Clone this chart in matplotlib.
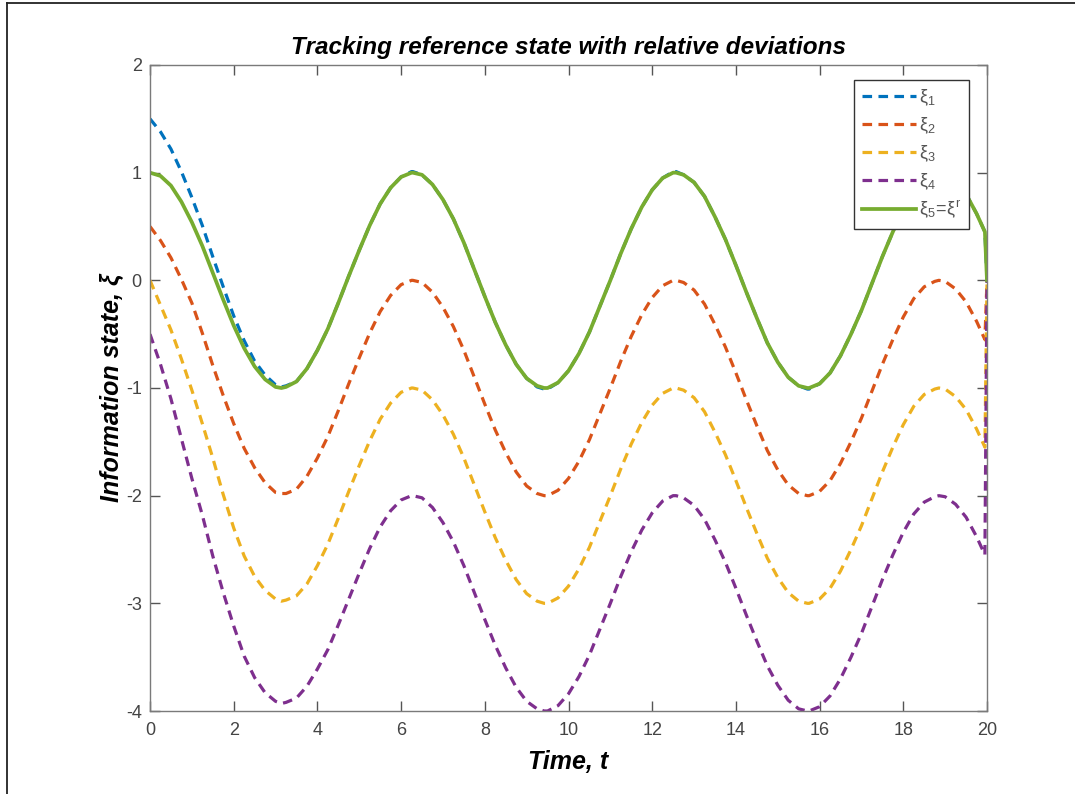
import numpy as np
import matplotlib
matplotlib.use("Agg")
import matplotlib.pyplot as plt
from matplotlib.lines import Line2D

plt.rcParams['font.family'] = ['Liberation Sans', 'DejaVu Sans']
plt.rcParams['mathtext.fontset'] = 'custom'
plt.rcParams['mathtext.rm'] = 'Liberation Sans'
plt.rcParams['mathtext.it'] = 'Liberation Sans'
plt.rcParams['axes.unicode_minus'] = False

# sampling instants of the simulation (extra samples at the extrema)
time = [0.0, 0.25, 0.5, 0.75, 1.0, 1.25, 1.5, 1.75, 2.0, 2.25, 2.5, 2.75, 3.0, 3.14, 3.25, 3.5, 3.75,
        4.0, 4.25, 4.5, 4.75, 5.0, 5.25, 5.5, 5.75, 6.0, 6.25, 6.28, 6.5, 6.75,
        7.0, 7.25, 7.5, 7.75, 8.0, 8.25, 8.5, 8.75, 9.0, 9.25, 9.42, 9.5, 9.75,
        10.0, 10.25, 10.5, 10.75, 11.0, 11.25, 11.5, 11.75, 12.0, 12.25, 12.5, 12.57, 12.75,
        13.0, 13.25, 13.5, 13.75, 14.0, 14.25, 14.5, 14.75, 15.0, 15.25, 15.5, 15.71, 15.75,
        16.0, 16.25, 16.5, 16.75, 17.0, 17.25, 17.5, 17.75, 18.0, 18.25, 18.5, 18.75, 18.85,
        19.0, 19.25, 19.5, 19.75, 19.95, 20.0]

xi1 = [1.50, 1.38, 1.22, 1.01, 0.77, 0.51, 0.22, -0.06, -0.33, -0.56, -0.75, -0.88, -0.97, -0.99, -0.98, -0.94, -0.82,
       -0.65, -0.45, -0.21, 0.04, 0.28, 0.51, 0.71, 0.86, 0.96, 1.01, 1.01, 0.98, 0.89,
       0.75, 0.57, 0.35, 0.10, -0.15, -0.39, -0.60, -0.78, -0.91, -0.99, -1.01, -1.01, -0.95,
       -0.84, -0.68, -0.48, -0.24, 0.00, 0.25, 0.48, 0.68, 0.84, 0.95, 1.01, 1.01, 0.98,
       0.91, 0.78, 0.59, 0.38, 0.14, -0.11, -0.35, -0.58, -0.76, -0.90, -0.98, -1.01, -1.01,
       -0.96, -0.86, -0.70, -0.50, -0.28, -0.03, 0.22, 0.45, 0.66, 0.83, 0.94, 0.99, 1.00,
       0.99, 0.92, 0.80, 0.62, 0.45, 0.00]

xi2 = [0.50, 0.37, 0.21, 0.01, -0.21, -0.49, -0.79, -1.07, -1.33, -1.56, -1.74, -1.88, -1.97, -1.98, -1.98, -1.94, -1.82,
       -1.65, -1.45, -1.21, -0.96, -0.72, -0.49, -0.29, -0.14, -0.04, 0.00, 0.00, -0.02, -0.11,
       -0.25, -0.43, -0.65, -0.90, -1.15, -1.39, -1.60, -1.78, -1.91, -1.98, -2.00, -2.00, -1.95,
       -1.84, -1.68, -1.48, -1.24, -1.00, -0.75, -0.52, -0.32, -0.16, -0.05, 0.00, 0.00, -0.02,
       -0.09, -0.22, -0.41, -0.62, -0.86, -1.11, -1.35, -1.58, -1.76, -1.90, -1.98, -2.00, -2.00,
       -1.96, -1.86, -1.70, -1.50, -1.28, -1.03, -0.78, -0.55, -0.34, -0.17, -0.06, -0.01, 0.00,
       -0.01, -0.08, -0.20, -0.38, -0.55, 0.00]

xi3 = [0.00, -0.23, -0.46, -0.73, -1.02, -1.33, -1.65, -1.99, -2.30, -2.56, -2.75, -2.88, -2.96, -2.98, -2.97, -2.93, -2.82,
       -2.65, -2.45, -2.21, -1.96, -1.72, -1.49, -1.29, -1.14, -1.04, -1.00, -1.00, -1.02, -1.11,
       -1.25, -1.43, -1.65, -1.90, -2.15, -2.39, -2.60, -2.78, -2.91, -2.98, -3.00, -3.00, -2.95,
       -2.84, -2.68, -2.48, -2.24, -2.00, -1.75, -1.52, -1.32, -1.16, -1.05, -1.00, -1.00, -1.02,
       -1.09, -1.22, -1.41, -1.62, -1.86, -2.11, -2.35, -2.58, -2.76, -2.90, -2.98, -3.00, -3.00,
       -2.96, -2.86, -2.70, -2.50, -2.28, -2.03, -1.78, -1.55, -1.34, -1.17, -1.06, -1.01, -1.00,
       -1.01, -1.08, -1.20, -1.38, -1.55, 0.00]

xi4 = [-0.50, -0.78, -1.10, -1.47, -1.84, -2.18, -2.56, -2.90, -3.21, -3.49, -3.69, -3.83, -3.91, -3.93, -3.92, -3.88, -3.77,
       -3.61, -3.43, -3.20, -2.96, -2.72, -2.49, -2.29, -2.14, -2.04, -2.00, -2.00, -2.02, -2.11,
       -2.25, -2.43, -2.65, -2.90, -3.15, -3.39, -3.60, -3.78, -3.91, -3.98, -4.00, -4.00, -3.95,
       -3.84, -3.68, -3.48, -3.24, -3.00, -2.75, -2.52, -2.32, -2.16, -2.05, -2.00, -2.00, -2.02,
       -2.09, -2.22, -2.41, -2.62, -2.86, -3.11, -3.35, -3.58, -3.76, -3.90, -3.98, -4.00, -4.00,
       -3.96, -3.86, -3.70, -3.50, -3.28, -3.03, -2.78, -2.55, -2.34, -2.17, -2.06, -2.01, -2.00,
       -2.01, -2.08, -2.20, -2.38, -2.55, 0.00]

# reference state xi^r
xi5 = [1.00, 0.97, 0.88, 0.73, 0.54, 0.32, 0.07, -0.18, -0.42, -0.63, -0.80, -0.92, -0.99, -1.00, -0.99, -0.94, -0.82,
       -0.65, -0.45, -0.21, 0.04, 0.28, 0.51, 0.71, 0.86, 0.96, 1.00, 1.00, 0.98, 0.89,
       0.75, 0.57, 0.35, 0.10, -0.15, -0.39, -0.60, -0.78, -0.91, -0.98, -1.00, -1.00, -0.95,
       -0.84, -0.68, -0.48, -0.24, 0.00, 0.25, 0.48, 0.68, 0.84, 0.95, 1.00, 1.00, 0.98,
       0.91, 0.78, 0.59, 0.38, 0.14, -0.11, -0.35, -0.58, -0.76, -0.90, -0.98, -1.00, -1.00,
       -0.96, -0.86, -0.70, -0.50, -0.28, -0.03, 0.22, 0.45, 0.66, 0.83, 0.94, 0.99, 1.00,
       0.99, 0.92, 0.80, 0.62, 0.45, 0.00]

labels = [r'$\xi_1$', r'$\xi_2$', r'$\xi_3$', r'$\xi_4$', r'$\xi_5\!=\!\xi^r$']
colors = ['#0072BD', '#D95319', '#EDB120', '#7E2F8E', '#77AC30']
xticks = list(range(0, 21, 2))
yticks = list(range(-4, 3))

fig = plt.figure(figsize=(10.75, 7.94), dpi=100)
ax = fig.add_axes([150 / 1075, 1 - 711 / 794, 837 / 1075, 646 / 794])

dash = (3.0, 2.0)
for series, lab, col in zip([xi1, xi2, xi3, xi4], labels[:4], colors[:4]):
    ax.plot(time, series, linestyle=(0, dash), color=col, lw=2.3, label=lab)
ax.plot(time, xi5, '-', color=colors[4], lw=2.7, label=labels[4])

ax.set_xlim(0, 20)
ax.set_ylim(-4, 2)
ax.set_xticks(xticks)
ax.set_yticks(yticks)

axis_gray = '#7a7a7a'
for sp in ax.spines.values():
    sp.set_color(axis_gray)
    sp.set_linewidth(1.0)
ax.tick_params(direction='in', length=7, width=1.0, color='#555555',
               labelcolor='#444444', labelsize=13, top=True, right=True, pad=6)
ax.tick_params(axis='x', pad=8)
for lbl in ax.get_xticklabels() + ax.get_yticklabels():
    lbl.set_family(['Liberation Sans Narrow', 'Liberation Sans'])

ax.set_title('Tracking reference state with relative deviations',
             fontsize=17.5, fontweight='bold', style='italic', pad=8)
ax.set_xlabel('Time, t', fontsize=18, fontweight='bold', style='italic', labelpad=8)
ax.set_ylabel('Information state, ξ', fontsize=18, fontweight='bold', style='italic', labelpad=1)

leg = ax.legend(loc='upper right', bbox_to_anchor=(969 / 1075, 1 - 80 / 794),
                bbox_transform=fig.transFigure, borderaxespad=0, fontsize=13,
                handlelength=3.0, handletextpad=0.2, labelspacing=0.42, borderpad=0.4,
                fancybox=False, framealpha=1, edgecolor='#333333', labelcolor='#555555')
leg.get_frame().set_linewidth(1.0)

# thin outer frame along the top and left edges of the image
fig.add_artist(Line2D([7 / 1075, 7 / 1075], [0, 1 - 2.5 / 794], transform=fig.transFigure,
                      color='#222222', lw=1.3))
fig.add_artist(Line2D([7 / 1075, 1], [1 - 2.5 / 794, 1 - 2.5 / 794], transform=fig.transFigure,
                      color='#222222', lw=1.3))

fig.savefig('out.png', dpi=100)
